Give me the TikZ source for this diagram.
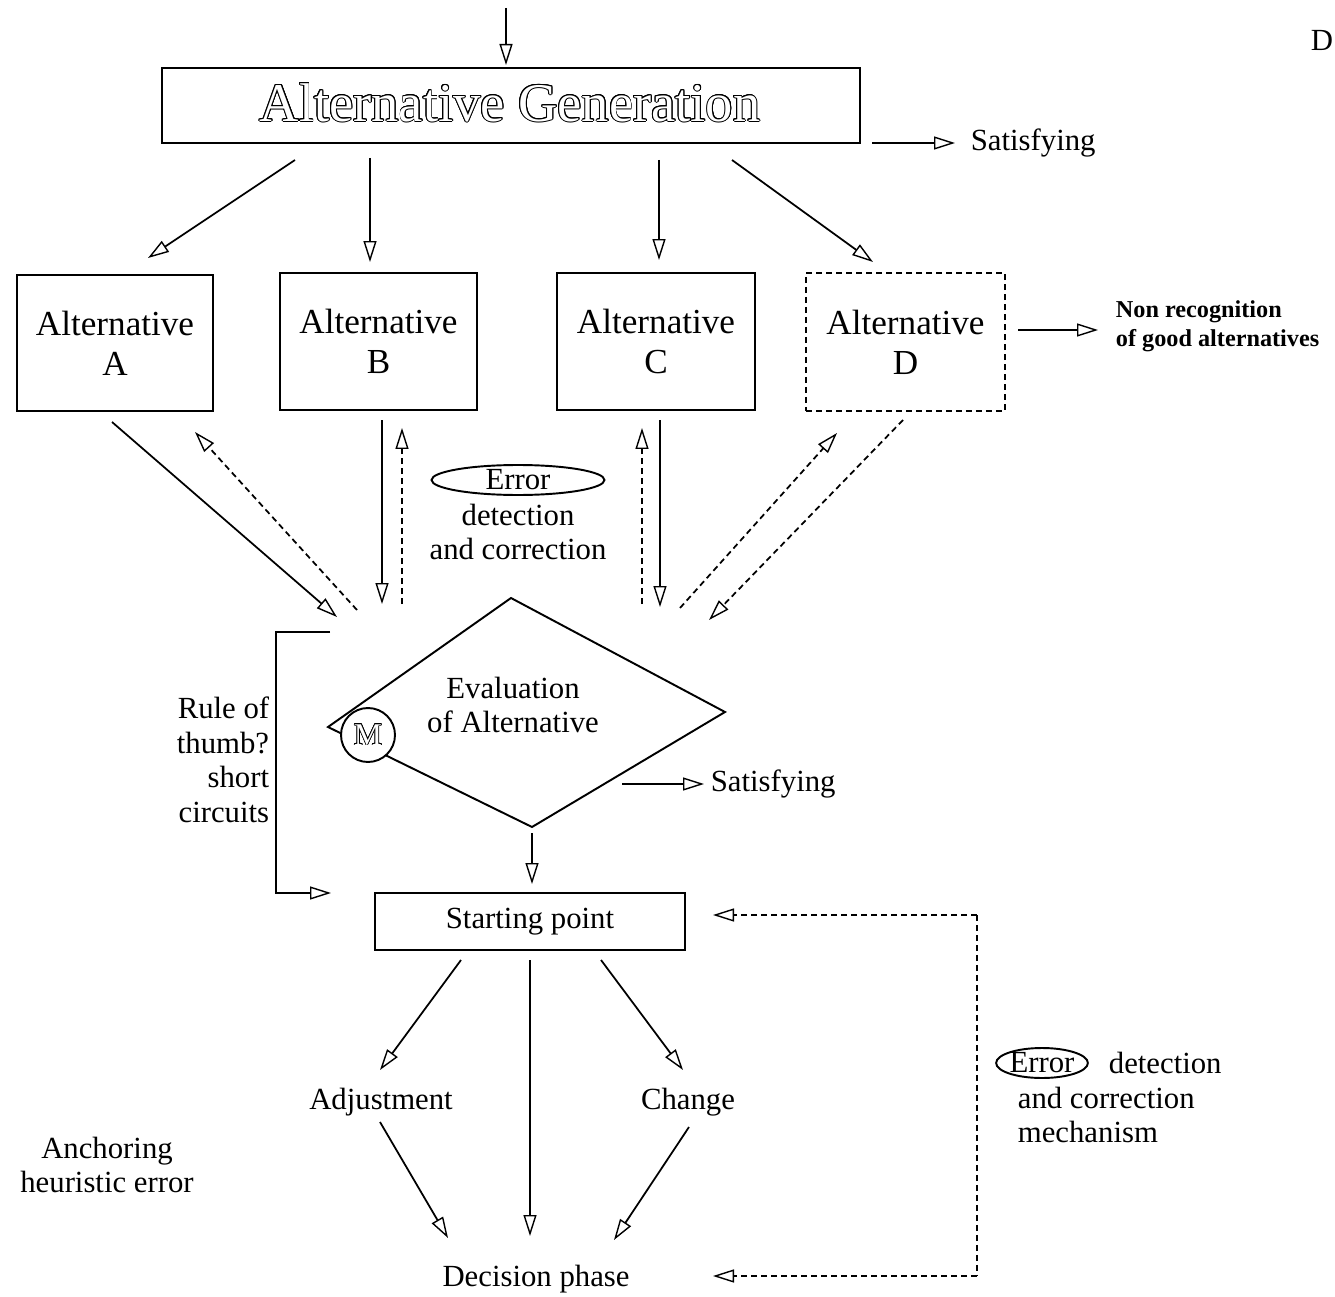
\documentclass[tikz,border=0pt]{standalone}
\usepackage{fontspec}
\setmainfont{Liberation Serif}
\usepackage{contour}
\contourlength{0.45pt}
\usetikzlibrary{arrows.meta,shapes.geometric}

\begin{document}
\begin{tikzpicture}[x=0.02cm,y=-0.02cm,
  line width=1pt,
  arr/.style={-{Triangle[open,length=0.42cm,width=0.26cm,line width=0.8pt]}},
  dsh/.style={dash pattern=on 0.12cm off 0.08cm},
  box/.style={draw, line width=1.1pt, inner sep=0pt},
  body/.style={font=\fontsize{17.5}{19.7}\selectfont, align=center, inner sep=0pt},
  altfont/.style={font=\fontsize{20}{22.7}\selectfont, align=center},
  hollow/.style={inner sep=0pt}
]
\useasboundingbox (0,0) rectangle (1335,1297);

% ---------- generation stage ----------
\node[box, minimum width=13.96cm, minimum height=1.5cm] (gen) at (511,105.5) {};
\node[hollow, font=\fontsize{31}{34}\selectfont] (gentext) at (510,103)
  {\contourlength{0.5pt}\contour{black}{\textcolor{white}{Alternative Generation}}};
\coordinate (in0) at (506,8);
\coordinate (in1) at (506,65);
\draw[arr] (in0) -- (in1);

\node[hollow, font=\fontsize{17.5}{20}\selectfont, anchor=west] (sat1) at (970,143) {Satisfying};
\coordinate (s1a) at (872,143);
\coordinate (s1b) at (955,143);
\draw[arr] (s1a) -- (s1b);

\node[hollow, font=\fontsize{17.5}{20}\selectfont, anchor=east] (dmark) at (1334,40) {D};

% ---------- alternatives ----------
\node[box, minimum width=3.92cm, minimum height=2.72cm, altfont] (A) at (115,343) {Alternative\\A};
\node[box, minimum width=3.94cm, minimum height=2.74cm, altfont] (B) at (378.5,341.5) {Alternative\\B};
\node[box, minimum width=3.96cm, minimum height=2.74cm, altfont] (C) at (656,341.5) {Alternative\\C};
\node[box, dsh, minimum width=3.98cm, minimum height=2.76cm, altfont] (D) at (905.5,342) {Alternative\\D};

\coordinate (gA1) at (295,160); \coordinate (gA2) at (148,258);
\coordinate (gB1) at (370,158); \coordinate (gB2) at (370,262);
\coordinate (gC1) at (659,160); \coordinate (gC2) at (659,260);
\coordinate (gD1) at (732,160); \coordinate (gD2) at (873,262);
\draw[arr] (gA1) -- (gA2);
\draw[arr] (gB1) -- (gB2);
\draw[arr] (gC1) -- (gC2);
\draw[arr] (gD1) -- (gD2);

\coordinate (nr1) at (1018,330); \coordinate (nr2) at (1098,330);
\draw[arr] (nr1) -- (nr2);
\node[hollow, font=\bfseries\fontsize{13.8}{16.4}\selectfont, align=left, anchor=west] (nonrec) at (1115,326)
  {Non recognition\\of good alternatives};

% ---------- alternatives to evaluation ----------
\coordinate (a1) at (112,422); \coordinate (a2) at (337,617);
\coordinate (a3) at (357,610); \coordinate (a4) at (195,432);
\draw[arr] (a1) -- (a2);
\draw[arr, dsh] (a3) -- (a4);

\coordinate (b1) at (382,420); \coordinate (b2) at (382,604);
\coordinate (b3) at (402,604); \coordinate (b4) at (402,428);
\draw[arr] (b1) -- (b2);
\draw[arr, dsh] (b3) -- (b4);

\coordinate (c1) at (642,604); \coordinate (c2) at (642,428);
\coordinate (c3) at (660,420); \coordinate (c4) at (660,607);
\draw[arr, dsh] (c1) -- (c2);
\draw[arr] (c3) -- (c4);

\coordinate (d1) at (680,608); \coordinate (d2) at (837,433);
\coordinate (d3) at (903,420); \coordinate (d4) at (709,620);
\draw[arr, dsh] (d1) -- (d2);
\draw[arr, dsh] (d3) -- (d4);

\node[draw, ellipse, line width=1.1pt, minimum width=3.46cm, minimum height=0.6cm, inner sep=0pt,
  font=\fontsize{17.5}{20}\selectfont] (err1) at (518,480) {Error};
\node[body] (err1txt) at (518,532) {detection\\and correction};

% ---------- evaluation ----------
\coordinate (dl) at (328,727);
\coordinate (dt) at (511,598);
\coordinate (dr) at (725,712);
\coordinate (db) at (532,827);
\draw[line width=1.1pt, line join=miter] (dl) -- (dt) -- (dr) -- (db) -- cycle;
\node[body] (evaltxt) at (513,705) {Evaluation\\of Alternative};
\node[draw, circle, fill=white, line width=1.1pt, minimum size=1.08cm, inner sep=0pt,
  font=\fontsize{18}{20}\selectfont] (M) at (368,735) {\contourlength{0.4pt}\contour{black}{\textcolor{white}{M}}};

\coordinate (s2a) at (622,784); \coordinate (s2b) at (704,784);
\draw[arr] (s2a) -- (s2b);
\node[hollow, font=\fontsize{17.5}{20}\selectfont, anchor=west] (sat2) at (710,784) {Satisfying};

% rule-of-thumb bypass
\coordinate (rt0) at (330,632);
\coordinate (rt1) at (276,632);
\coordinate (rt2) at (276,893);
\coordinate (rt3) at (331,893);
\draw[arr, line width=1.2pt, line join=miter] (rt0) -- (rt1) -- (rt2) -- (rt3);
\node[body, align=right, anchor=east] (rule) at (270,760) {Rule of\\thumb?\\short\\circuits};

% ---------- anchoring ----------
\coordinate (e1) at (532,833); \coordinate (e2) at (532,884);
\draw[arr] (e1) -- (e2);
\node[box, minimum width=6.2cm, minimum height=1.14cm, font=\fontsize{17.5}{20}\selectfont] (start) at (530,921.5) {Starting point};

\coordinate (p1) at (461,960); \coordinate (p2) at (380,1070);
\coordinate (p3) at (530,960); \coordinate (p4) at (530,1236);
\coordinate (p5) at (601,960); \coordinate (p6) at (683,1070);
\draw[arr] (p1) -- (p2);
\draw[arr] (p3) -- (p4);
\draw[arr] (p5) -- (p6);

\node[body] (adj) at (381,1102) {Adjustment};
\node[body] (chg) at (688,1102) {Change};
\node[body] (dec) at (536,1279) {Decision phase};

\coordinate (q1) at (380,1122); \coordinate (q2) at (448,1238);
\coordinate (q3) at (689,1127); \coordinate (q4) at (614,1240);
\draw[arr] (q1) -- (q2);
\draw[arr] (q3) -- (q4);

\node[body] (anch) at (107,1165) {Anchoring\\heuristic error};

% error detection loop
\coordinate (l0) at (977,915);
\coordinate (l1) at (713,915);
\coordinate (l2) at (977,1276);
\coordinate (l3) at (713,1276);
\draw[arr, dsh] (l0) -- (l1);
\draw[dsh] (l0) -- (l2);
\draw[arr, dsh] (l2) -- (l3);

\node[draw, ellipse, line width=1.1pt, minimum width=1.82cm, minimum height=0.6cm, inner sep=0pt,
  font=\fontsize{17.5}{20}\selectfont] (err2) at (1042,1063) {Error};
\node[hollow, font=\fontsize{17.5}{20}\selectfont, anchor=west] (err2a) at (1108,1063) {detection};
\node[body, align=left, anchor=west] (err2b) at (1017,1115) {and correction\\mechanism};
\end{tikzpicture}
\end{document}
